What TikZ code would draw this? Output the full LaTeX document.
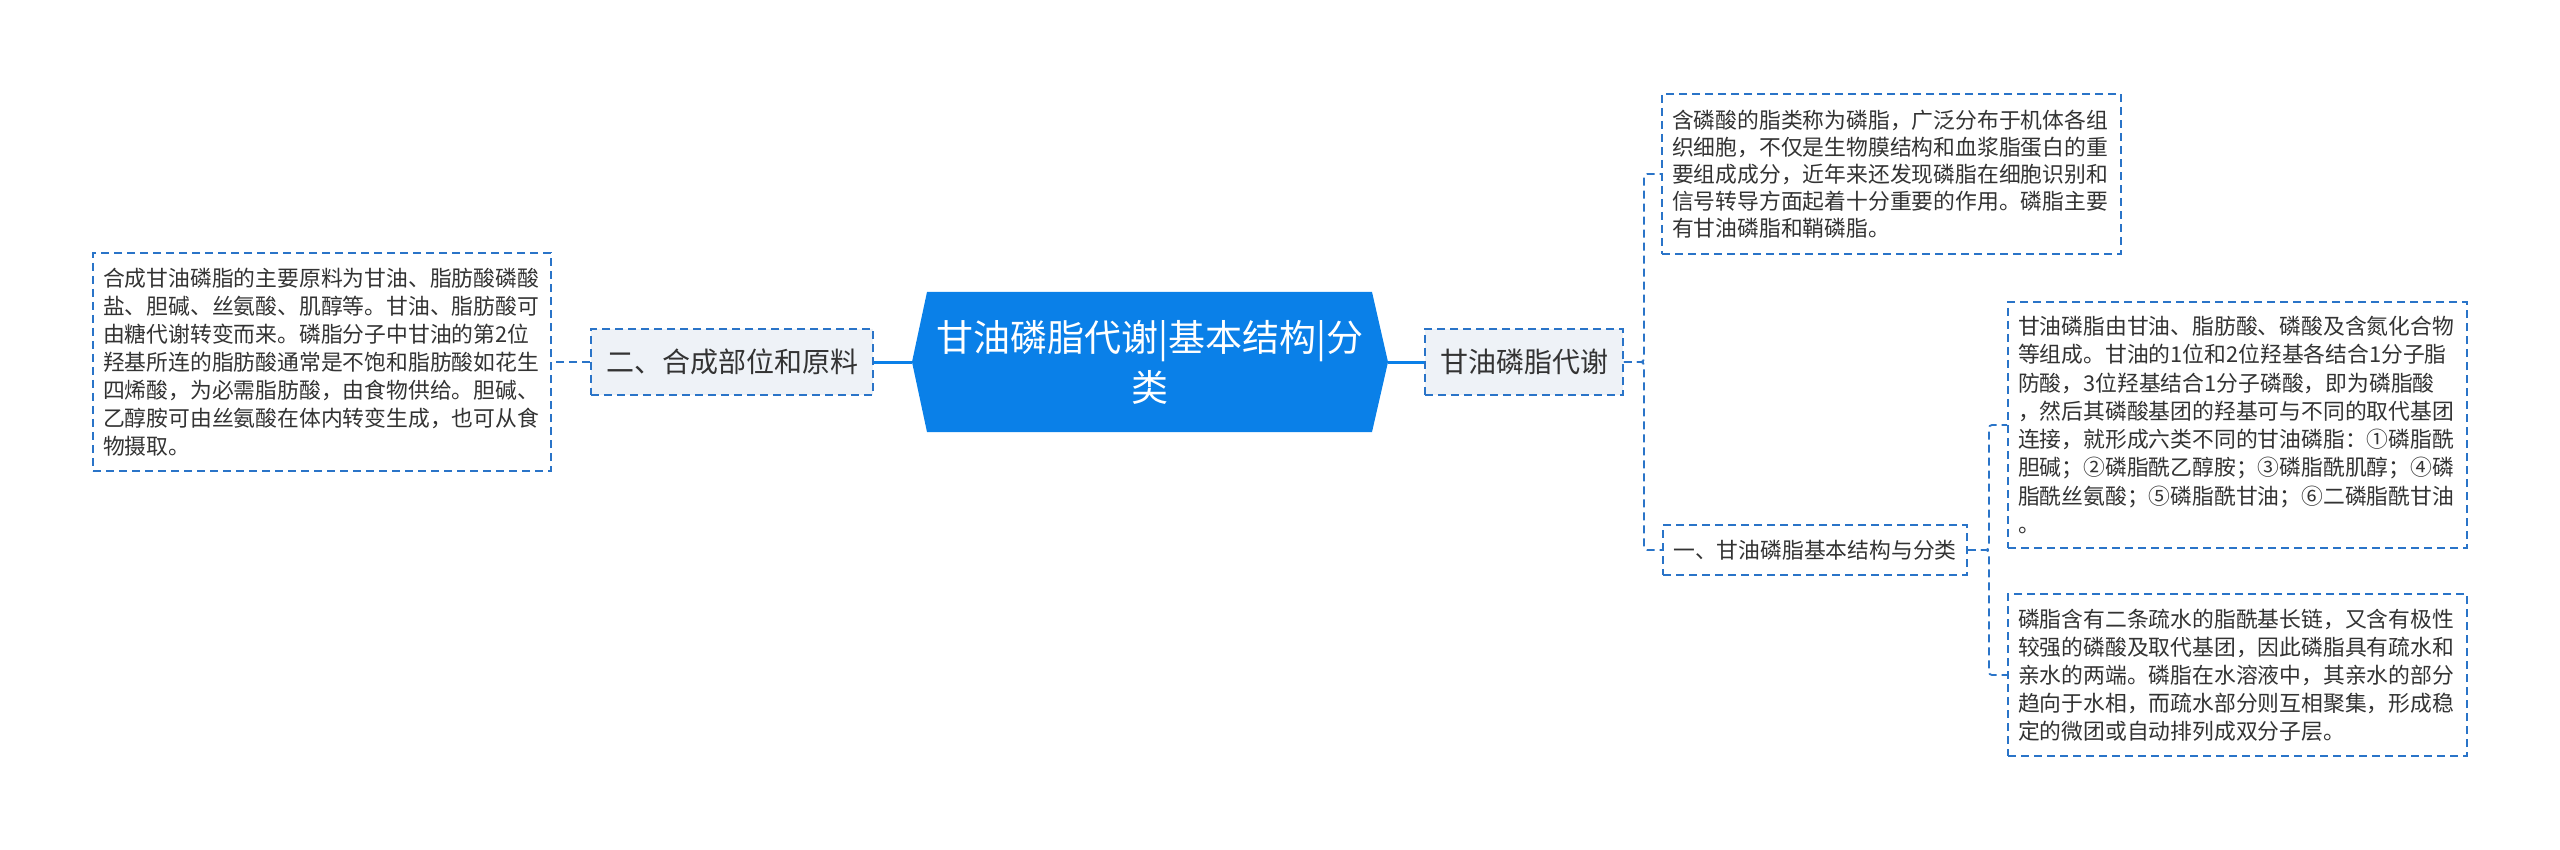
\documentclass[tikz,border=0pt]{standalone}
\usepackage{fontspec}
\setmainfont{Noto Sans CJK SC}
\newcommand\fsz[2]{\fontsize{#1}{#2}\selectfont}
\definecolor{rootc}{HTML}{0A80E8}
\definecolor{bordc}{HTML}{2A74C8}
\definecolor{greyf}{HTML}{EEF2F7}
\definecolor{txtc}{HTML}{333333}
\begin{document}
\begin{tikzpicture}[x=1pt,y=-1pt,
  dbox/.style={draw=bordc, dash pattern=on 8pt off 5pt, line width=1.8pt,
    inner xsep=10pt, inner ysep=0pt, align=left, text=txtc},
  sline/.style={draw=rootc, line width=3pt},
  dline/.style={draw=bordc, dash pattern=on 8pt off 5pt, line width=1.8pt, rounded corners=3pt}]
\useasboundingbox (0,0) rectangle (2560,850);
% root
\fill[rootc] (927,292) -- (1372,292) -- (1388,362) -- (1372,432) -- (927,432) -- (912,362) -- cycle;
\node[minimum width=476pt, minimum height=140pt, inner sep=0pt, align=center, text=white, font=\fsz{37}{50}]
  (root) at (1150,362) {甘油磷脂代谢|基本结构|分\\类};
% left side
\node[dbox, fill=greyf, minimum width=282pt, minimum height=66pt, font=\fsz{28}{34}] (two) at (732,362) {二、合成部位和原料};
\node[dbox, fill=white, minimum width=458pt, minimum height=218pt, text width=438pt, font=\fsz{21.8}{28}] (L) at (322,362)
{合成甘油磷脂的主要原料为甘油、脂肪酸磷酸\\
盐、胆碱、丝氨酸、肌醇等。甘油、脂肪酸可\\
由糖代谢转变而来。磷脂分子中甘油的第2位\\
羟基所连的脂肪酸通常是不饱和脂肪酸如花生\\
四烯酸，为必需脂肪酸，由食物供给。胆碱、\\
乙醇胺可由丝氨酸在体内转变生成，也可从食\\
物摄取。};
% right side
\node[dbox, fill=greyf, minimum width=198pt, minimum height=66pt, font=\fsz{28}{34}] (gan) at (1524,362) {甘油磷脂代谢};
\node[dbox, fill=white, minimum width=459pt, minimum height=160pt, text width=439pt, font=\fsz{21.8}{27}] (top) at (1891.5,174)
{含磷酸的脂类称为磷脂，广泛分布于机体各组\\
织细胞，不仅是生物膜结构和血浆脂蛋白的重\\
要组成成分，近年来还发现磷脂在细胞识别和\\
信号转导方面起着十分重要的作用。磷脂主要\\
有甘油磷脂和鞘磷脂。};
\node[dbox, fill=white, minimum width=304pt, minimum height=50pt, font=\fsz{21.8}{27}] (yi) at (1815,550) {一、甘油磷脂基本结构与分类};
\node[dbox, fill=white, minimum width=459pt, minimum height=246pt, text width=439pt, font=\fsz{21.8}{28.3}] (A) at (2237.5,425)
{甘油磷脂由甘油、脂肪酸、磷酸及含氮化合物\\
等组成。甘油的1位和2位羟基各结合1分子脂\\
防酸，3位羟基结合1分子磷酸，即为磷脂酸\\
，然后其磷酸基团的羟基可与不同的取代基团\\
连接，就形成六类不同的甘油磷脂：①磷脂酰\\
胆碱；②磷脂酰乙醇胺；③磷脂酰肌醇；④磷\\
脂酰丝氨酸；⑤磷脂酰甘油；⑥二磷脂酰甘油\\
。};
\node[dbox, fill=white, minimum width=459pt, minimum height=162pt, text width=439pt, font=\fsz{21.8}{28}] (B) at (2237.5,675)
{磷脂含有二条疏水的脂酰基长链，又含有极性\\
较强的磷酸及取代基团，因此磷脂具有疏水和\\
亲水的两端。磷脂在水溶液中，其亲水的部分\\
趋向于水相，而疏水部分则互相聚集，形成稳\\
定的微团或自动排列成双分子层。};
% connectors
\draw[sline] (root.west) -- (two.east);
\draw[sline] (root.east) -- (gan.west);
\draw[dline] (two.west) -- (L.east);
\draw[dline] (gan.east) -- ++(20,0) |- (top.west);
\draw[dline] (gan.east) -- ++(20,0) |- (yi.west);
\draw[dline] (yi.east) -- ++(21,0) |- (A.west);
\draw[dline] (yi.east) -- ++(21,0) |- (B.west);
\end{tikzpicture}
\end{document}
